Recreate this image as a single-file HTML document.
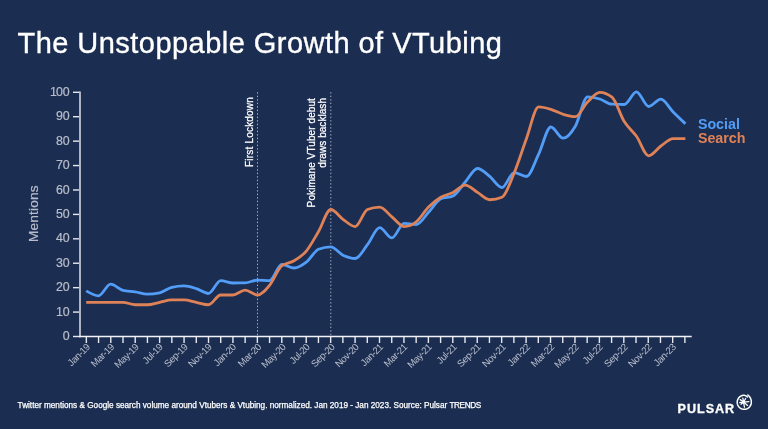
<!DOCTYPE html><html><head><meta charset="utf-8"><title>The Unstoppable Growth of VTubing</title><style>
html,body{margin:0;padding:0}
body{width:768px;height:429px;overflow:hidden;background:#1b2e51;position:relative;font-family:"Liberation Sans",sans-serif;color:#fff}
.abs{position:absolute;white-space:nowrap;line-height:1}
.title{left:17.5px;top:29px;font-size:29px;letter-spacing:0.46px;color:#fff;-webkit-text-stroke:0.35px #fff}
.yl{right:698.3px;font-size:12.4px;color:#b9bdcb;text-align:right;-webkit-text-stroke:0.2px #b9bdcb}
.xl{font-size:9.7px;letter-spacing:-0.45px;color:#b9bdcb;transform-origin:100% 0;transform:rotate(-45deg);text-align:right}
.ann{font-size:10px;color:#fff;-webkit-text-stroke:0.25px #fff;transform-origin:0 0;transform:rotate(-90deg);text-align:right;line-height:11px}
.foot{left:17.6px;top:401.7px;font-size:8.2px;color:#fff;-webkit-text-stroke:0.25px #fff}
.leg{font-size:14.25px;font-weight:bold}
.logo{left:677.6px;top:403.1px;font-size:12.6px;font-weight:bold;letter-spacing:0.95px;-webkit-text-stroke:0.3px #fff}
.ment{font-size:13.7px;letter-spacing:0.15px;-webkit-text-stroke:0.2px #b9bdcb;color:#b9bdcb;transform-origin:0 0;transform:rotate(-90deg)}

</style></head><body>
<svg width="768" height="429" viewBox="0 0 768 429" style="position:absolute;left:0;top:0">
<line x1="257.51" y1="92.2" x2="257.51" y2="336" stroke="#b9bfd3" stroke-width="0.9" stroke-dasharray="1.4 2.1"/>
<line x1="330.80" y1="92.2" x2="330.80" y2="336" stroke="#b9bfd3" stroke-width="0.9" stroke-dasharray="1.4 2.1"/>
<line x1="73" y1="336.50" x2="80" y2="336.50" stroke="#e6e8ef" stroke-width="1.4"/>
<line x1="73" y1="312.08" x2="80" y2="312.08" stroke="#e6e8ef" stroke-width="1.4"/>
<line x1="73" y1="287.66" x2="80" y2="287.66" stroke="#e6e8ef" stroke-width="1.4"/>
<line x1="73" y1="263.24" x2="80" y2="263.24" stroke="#e6e8ef" stroke-width="1.4"/>
<line x1="73" y1="238.82" x2="80" y2="238.82" stroke="#e6e8ef" stroke-width="1.4"/>
<line x1="73" y1="214.40" x2="80" y2="214.40" stroke="#e6e8ef" stroke-width="1.4"/>
<line x1="73" y1="189.98" x2="80" y2="189.98" stroke="#e6e8ef" stroke-width="1.4"/>
<line x1="73" y1="165.56" x2="80" y2="165.56" stroke="#e6e8ef" stroke-width="1.4"/>
<line x1="73" y1="141.14" x2="80" y2="141.14" stroke="#e6e8ef" stroke-width="1.4"/>
<line x1="73" y1="116.72" x2="80" y2="116.72" stroke="#e6e8ef" stroke-width="1.4"/>
<line x1="73" y1="92.30" x2="80" y2="92.30" stroke="#e6e8ef" stroke-width="1.4"/>
<line x1="86.35" y1="336.5" x2="86.35" y2="343" stroke="#e6e8ef" stroke-width="1.4"/>
<line x1="98.56" y1="336.5" x2="98.56" y2="343" stroke="#e6e8ef" stroke-width="1.4"/>
<line x1="110.78" y1="336.5" x2="110.78" y2="343" stroke="#e6e8ef" stroke-width="1.4"/>
<line x1="122.99" y1="336.5" x2="122.99" y2="343" stroke="#e6e8ef" stroke-width="1.4"/>
<line x1="135.21" y1="336.5" x2="135.21" y2="343" stroke="#e6e8ef" stroke-width="1.4"/>
<line x1="147.43" y1="336.5" x2="147.43" y2="343" stroke="#e6e8ef" stroke-width="1.4"/>
<line x1="159.64" y1="336.5" x2="159.64" y2="343" stroke="#e6e8ef" stroke-width="1.4"/>
<line x1="171.85" y1="336.5" x2="171.85" y2="343" stroke="#e6e8ef" stroke-width="1.4"/>
<line x1="184.07" y1="336.5" x2="184.07" y2="343" stroke="#e6e8ef" stroke-width="1.4"/>
<line x1="196.28" y1="336.5" x2="196.28" y2="343" stroke="#e6e8ef" stroke-width="1.4"/>
<line x1="208.50" y1="336.5" x2="208.50" y2="343" stroke="#e6e8ef" stroke-width="1.4"/>
<line x1="220.72" y1="336.5" x2="220.72" y2="343" stroke="#e6e8ef" stroke-width="1.4"/>
<line x1="232.93" y1="336.5" x2="232.93" y2="343" stroke="#e6e8ef" stroke-width="1.4"/>
<line x1="245.14" y1="336.5" x2="245.14" y2="343" stroke="#e6e8ef" stroke-width="1.4"/>
<line x1="257.36" y1="336.5" x2="257.36" y2="343" stroke="#e6e8ef" stroke-width="1.4"/>
<line x1="269.57" y1="336.5" x2="269.57" y2="343" stroke="#e6e8ef" stroke-width="1.4"/>
<line x1="281.79" y1="336.5" x2="281.79" y2="343" stroke="#e6e8ef" stroke-width="1.4"/>
<line x1="294.00" y1="336.5" x2="294.00" y2="343" stroke="#e6e8ef" stroke-width="1.4"/>
<line x1="306.22" y1="336.5" x2="306.22" y2="343" stroke="#e6e8ef" stroke-width="1.4"/>
<line x1="318.44" y1="336.5" x2="318.44" y2="343" stroke="#e6e8ef" stroke-width="1.4"/>
<line x1="330.65" y1="336.5" x2="330.65" y2="343" stroke="#e6e8ef" stroke-width="1.4"/>
<line x1="342.87" y1="336.5" x2="342.87" y2="343" stroke="#e6e8ef" stroke-width="1.4"/>
<line x1="355.08" y1="336.5" x2="355.08" y2="343" stroke="#e6e8ef" stroke-width="1.4"/>
<line x1="367.29" y1="336.5" x2="367.29" y2="343" stroke="#e6e8ef" stroke-width="1.4"/>
<line x1="379.51" y1="336.5" x2="379.51" y2="343" stroke="#e6e8ef" stroke-width="1.4"/>
<line x1="391.73" y1="336.5" x2="391.73" y2="343" stroke="#e6e8ef" stroke-width="1.4"/>
<line x1="403.94" y1="336.5" x2="403.94" y2="343" stroke="#e6e8ef" stroke-width="1.4"/>
<line x1="416.15" y1="336.5" x2="416.15" y2="343" stroke="#e6e8ef" stroke-width="1.4"/>
<line x1="428.37" y1="336.5" x2="428.37" y2="343" stroke="#e6e8ef" stroke-width="1.4"/>
<line x1="440.59" y1="336.5" x2="440.59" y2="343" stroke="#e6e8ef" stroke-width="1.4"/>
<line x1="452.80" y1="336.5" x2="452.80" y2="343" stroke="#e6e8ef" stroke-width="1.4"/>
<line x1="465.01" y1="336.5" x2="465.01" y2="343" stroke="#e6e8ef" stroke-width="1.4"/>
<line x1="477.23" y1="336.5" x2="477.23" y2="343" stroke="#e6e8ef" stroke-width="1.4"/>
<line x1="489.44" y1="336.5" x2="489.44" y2="343" stroke="#e6e8ef" stroke-width="1.4"/>
<line x1="501.66" y1="336.5" x2="501.66" y2="343" stroke="#e6e8ef" stroke-width="1.4"/>
<line x1="513.88" y1="336.5" x2="513.88" y2="343" stroke="#e6e8ef" stroke-width="1.4"/>
<line x1="526.09" y1="336.5" x2="526.09" y2="343" stroke="#e6e8ef" stroke-width="1.4"/>
<line x1="538.30" y1="336.5" x2="538.30" y2="343" stroke="#e6e8ef" stroke-width="1.4"/>
<line x1="550.52" y1="336.5" x2="550.52" y2="343" stroke="#e6e8ef" stroke-width="1.4"/>
<line x1="562.74" y1="336.5" x2="562.74" y2="343" stroke="#e6e8ef" stroke-width="1.4"/>
<line x1="574.95" y1="336.5" x2="574.95" y2="343" stroke="#e6e8ef" stroke-width="1.4"/>
<line x1="587.16" y1="336.5" x2="587.16" y2="343" stroke="#e6e8ef" stroke-width="1.4"/>
<line x1="599.38" y1="336.5" x2="599.38" y2="343" stroke="#e6e8ef" stroke-width="1.4"/>
<line x1="611.60" y1="336.5" x2="611.60" y2="343" stroke="#e6e8ef" stroke-width="1.4"/>
<line x1="623.81" y1="336.5" x2="623.81" y2="343" stroke="#e6e8ef" stroke-width="1.4"/>
<line x1="636.02" y1="336.5" x2="636.02" y2="343" stroke="#e6e8ef" stroke-width="1.4"/>
<line x1="648.24" y1="336.5" x2="648.24" y2="343" stroke="#e6e8ef" stroke-width="1.4"/>
<line x1="660.46" y1="336.5" x2="660.46" y2="343" stroke="#e6e8ef" stroke-width="1.4"/>
<line x1="672.67" y1="336.5" x2="672.67" y2="343" stroke="#e6e8ef" stroke-width="1.4"/>
<line x1="684.88" y1="336.5" x2="684.88" y2="343" stroke="#e6e8ef" stroke-width="1.4"/>
<line x1="80" y1="91.6" x2="80" y2="337.2" stroke="#aeb3c4" stroke-width="2"/>
<line x1="79" y1="336.5" x2="691.7" y2="336.5" stroke="#f2f3f7" stroke-width="1.4"/>
<path d="M86.20 290.90C90.28 293.35 94.35 295.80 98.43 295.80C102.50 295.80 106.58 284.20 110.66 284.20C114.73 284.20 118.81 289.30 122.88 290.30C126.96 291.30 131.04 291.17 135.11 291.80C139.19 292.43 143.26 294.10 147.34 294.10C151.42 294.10 155.49 293.67 159.57 292.80C163.64 291.93 167.72 288.40 171.80 287.40C175.87 286.40 179.95 285.90 184.02 285.90C188.10 285.90 192.18 287.33 196.25 288.60C200.33 289.87 204.40 293.50 208.48 293.50C212.56 293.50 216.63 280.70 220.71 280.70C224.78 280.70 228.86 283.00 232.94 283.00C237.01 283.00 241.09 282.97 245.16 282.90C249.24 282.83 253.32 280.10 257.39 280.10C261.47 280.10 265.54 280.60 269.62 280.60C273.70 280.60 277.77 264.40 281.85 264.40C285.92 264.40 290.00 268.00 294.08 268.00C298.15 268.00 302.23 265.32 306.30 262.20C310.38 259.08 314.46 250.97 318.53 249.30C322.61 247.63 326.68 246.80 330.76 246.80C334.84 246.80 338.91 253.25 342.99 255.20C347.06 257.15 351.14 258.50 355.22 258.50C359.29 258.50 363.37 249.83 367.44 244.70C371.52 239.57 375.60 227.70 379.67 227.70C383.75 227.70 387.82 237.90 391.90 237.90C395.98 237.90 400.05 223.40 404.13 223.40C408.20 223.40 412.28 224.50 416.36 224.50C420.43 224.50 424.51 216.50 428.58 212.20C432.66 207.90 436.74 200.57 440.81 198.70C444.89 196.83 448.96 197.77 453.04 195.90C457.12 194.03 461.19 186.57 465.27 182.00C469.34 177.43 473.42 168.50 477.50 168.50C481.57 168.50 485.65 173.22 489.72 176.40C493.80 179.58 497.88 187.60 501.95 187.60C506.03 187.60 510.10 172.60 514.18 172.60C518.26 172.60 522.33 176.50 526.41 176.50C530.48 176.50 534.56 162.35 538.64 154.10C542.71 145.85 546.79 127.00 550.86 127.00C554.94 127.00 559.02 138.20 563.09 138.20C567.17 138.20 571.24 133.10 575.32 126.20C579.40 119.30 583.47 96.80 587.55 96.80C591.62 96.80 595.70 97.77 599.78 99.00C603.85 100.23 607.93 104.00 612.00 104.20C616.08 104.40 620.16 104.50 624.23 104.50C628.31 104.50 632.38 91.80 636.46 91.80C640.54 91.80 644.61 106.50 648.69 106.50C652.76 106.50 656.84 99.10 660.92 99.10C664.99 99.10 669.07 107.90 673.14 112.00C677.22 116.10 681.30 119.90 685.37 123.70" fill="none" stroke="#529df7" stroke-width="2.8" stroke-linejoin="round"/>
<path d="M86.20 302.31C90.28 302.31 94.35 302.31 98.43 302.31C102.50 302.31 106.58 302.31 110.66 302.31C114.73 302.31 118.81 302.31 122.88 302.31C126.96 302.31 131.04 304.75 135.11 304.75C139.19 304.75 143.26 304.75 147.34 304.75C151.42 304.75 155.49 303.13 159.57 302.31C163.64 301.50 167.72 299.87 171.80 299.87C175.87 299.87 179.95 299.87 184.02 299.87C188.10 299.87 192.18 301.50 196.25 302.31C200.33 303.13 204.40 304.75 208.48 304.75C212.56 304.75 216.63 294.99 220.71 294.99C224.78 294.99 228.86 294.99 232.94 294.99C237.01 294.99 241.09 290.10 245.16 290.10C249.24 290.10 253.32 294.99 257.39 294.99C261.47 294.99 265.54 290.10 269.62 285.22C273.70 280.33 277.77 268.94 281.85 265.68C285.92 262.43 290.00 263.24 294.08 260.80C298.15 258.36 302.23 255.91 306.30 251.03C310.38 246.15 314.46 238.41 318.53 231.49C322.61 224.57 326.68 209.52 330.76 209.52C334.84 209.52 338.91 216.44 342.99 219.28C347.06 222.13 351.14 226.61 355.22 226.61C359.29 226.61 363.37 211.14 367.44 209.52C371.52 207.89 375.60 207.07 379.67 207.07C383.75 207.07 387.82 213.59 391.90 216.84C395.98 220.10 400.05 226.61 404.13 226.61C408.20 226.61 412.28 224.98 416.36 221.73C420.43 218.47 424.51 211.14 428.58 207.07C432.66 203.00 436.74 199.75 440.81 197.31C444.89 194.86 448.96 194.46 453.04 192.42C457.12 190.39 461.19 185.10 465.27 185.10C469.34 185.10 473.42 189.98 477.50 192.42C481.57 194.86 485.65 199.75 489.72 199.75C493.80 199.75 497.88 198.93 501.95 197.31C506.03 195.68 510.10 182.65 514.18 172.89C518.26 163.12 522.33 149.69 526.41 138.70C530.48 127.71 534.56 106.95 538.64 106.95C542.71 106.95 546.79 108.17 550.86 109.39C554.94 110.61 559.02 113.06 563.09 114.28C567.17 115.50 571.24 116.72 575.32 116.72C579.40 116.72 583.47 106.14 587.55 102.07C591.62 98.00 595.70 92.30 599.78 92.30C603.85 92.30 607.93 93.93 612.00 97.18C616.08 100.44 620.16 115.09 624.23 121.60C628.31 128.12 632.38 130.56 636.46 136.26C640.54 141.95 644.61 155.79 648.69 155.79C652.76 155.79 656.84 148.87 660.92 146.02C664.99 143.18 669.07 138.70 673.14 138.70C677.22 138.70 681.30 138.70 685.37 138.70" fill="none" stroke="#e08257" stroke-width="2.8" stroke-linejoin="round"/>
<path d="M747.31 396.98 L746.90 396.58 L746.45 396.22 L745.94 395.90 L745.40 395.64 L744.82 395.45 L744.22 395.33 L743.60 395.29 L742.98 395.34 L742.38 395.47 L741.78 395.66 L741.21 395.90 L740.66 396.20 L740.14 396.54 L739.66 396.92 L739.20 397.35 L738.79 397.81 L738.42 398.31 L738.09 398.84 L737.82 399.40 L737.59 399.98 L737.41 400.57 L737.29 401.18 L737.22 401.80 L737.21 402.42 L737.25 403.04 L737.35 403.66 L737.50 404.26 L737.70 404.85 L737.96 405.42 L738.26 405.96 L738.61 406.48 L739.00 406.96 L739.44 407.40 L739.91 407.81 L740.41 408.17 L740.95 408.48 L741.51 408.75 L742.09 408.97 L742.69 409.13 L743.31 409.25 L743.93 409.30 L744.55 409.30 L745.17 409.25 L745.78 409.14 L746.38 408.98 L746.96 408.77 L747.53 408.51 L748.07 408.19 L748.57 407.84 L749.05 407.43 L749.49 406.99 L749.88 406.51 L750.24 406.00 L750.54 405.46 L750.80 404.89 L751.01 404.31 L751.16 403.71 L751.26 403.09 L751.31 402.47 L751.31 401.85 L751.28 401.22 L751.21 400.60 L751.09 399.97 L750.93 399.35 L750.71 398.74 L750.45 398.14 L750.13 397.56 L749.76 396.99 L749.34 396.45 L748.87 395.94 L748.35 395.46 L747.79 395.02" fill="none" stroke="#fff" stroke-width="1.5" stroke-linecap="round" stroke-linejoin="round"/>
<line x1="743.56" y1="402.02" x2="742.86" y2="398.02" stroke="#fff" stroke-width="1.25" stroke-linecap="round"/>
<line x1="743.56" y1="402.02" x2="745.66" y2="398.52" stroke="#fff" stroke-width="1.25" stroke-linecap="round"/>
<line x1="743.56" y1="402.02" x2="748.86" y2="401.52" stroke="#fff" stroke-width="1.25" stroke-linecap="round"/>
<line x1="743.56" y1="402.02" x2="747.56" y2="405.42" stroke="#fff" stroke-width="1.25" stroke-linecap="round"/>
<line x1="743.56" y1="402.02" x2="744.46" y2="407.02" stroke="#fff" stroke-width="1.25" stroke-linecap="round"/>
<line x1="743.56" y1="402.02" x2="740.96" y2="404.22" stroke="#fff" stroke-width="1.25" stroke-linecap="round"/>
<line x1="743.56" y1="402.02" x2="739.66" y2="402.52" stroke="#fff" stroke-width="1.25" stroke-linecap="round"/>
<line x1="743.56" y1="402.02" x2="740.16" y2="399.62" stroke="#fff" stroke-width="1.25" stroke-linecap="round"/>
<circle cx="743.56" cy="402.02" r="1.7" fill="#fff"/>
</svg>
<div class="abs title">The Unstoppable Growth of VTubing</div>
<div class="abs yl" style="top:330.0px">0</div>
<div class="abs yl" style="top:305.6px">10</div>
<div class="abs yl" style="top:281.2px">20</div>
<div class="abs yl" style="top:256.7px">30</div>
<div class="abs yl" style="top:232.3px">40</div>
<div class="abs yl" style="top:207.9px">50</div>
<div class="abs yl" style="top:183.5px">60</div>
<div class="abs yl" style="top:159.1px">70</div>
<div class="abs yl" style="top:134.6px">80</div>
<div class="abs yl" style="top:110.2px">90</div>
<div class="abs yl" style="top:85.8px"><span style="letter-spacing:-1.1px">1</span>00</div>
<div class="abs xl" style="right:683.1px;top:341.9px">Jan-19</div>
<div class="abs xl" style="right:658.7px;top:341.9px">Mar-19</div>
<div class="abs xl" style="right:634.3px;top:341.9px">May-19</div>
<div class="abs xl" style="right:609.9px;top:341.9px">Jul-19</div>
<div class="abs xl" style="right:585.4px;top:341.9px">Sep-19</div>
<div class="abs xl" style="right:561.0px;top:341.9px">Nov-19</div>
<div class="abs xl" style="right:536.6px;top:341.9px">Jan-20</div>
<div class="abs xl" style="right:512.1px;top:341.9px">Mar-20</div>
<div class="abs xl" style="right:487.7px;top:341.9px">May-20</div>
<div class="abs xl" style="right:463.3px;top:341.9px">Jul-20</div>
<div class="abs xl" style="right:438.9px;top:341.9px">Sep-20</div>
<div class="abs xl" style="right:414.4px;top:341.9px">Nov-20</div>
<div class="abs xl" style="right:390.0px;top:341.9px">Jan-21</div>
<div class="abs xl" style="right:365.6px;top:341.9px">Mar-21</div>
<div class="abs xl" style="right:341.1px;top:341.9px">May-21</div>
<div class="abs xl" style="right:316.7px;top:341.9px">Jul-21</div>
<div class="abs xl" style="right:292.3px;top:341.9px">Sep-21</div>
<div class="abs xl" style="right:267.8px;top:341.9px">Nov-21</div>
<div class="abs xl" style="right:243.4px;top:341.9px">Jan-22</div>
<div class="abs xl" style="right:219.0px;top:341.9px">Mar-22</div>
<div class="abs xl" style="right:194.5px;top:341.9px">May-22</div>
<div class="abs xl" style="right:170.1px;top:341.9px">Jul-22</div>
<div class="abs xl" style="right:145.7px;top:341.9px">Sep-22</div>
<div class="abs xl" style="right:121.3px;top:341.9px">Nov-22</div>
<div class="abs xl" style="right:96.8px;top:341.9px">Jan-23</div>
<div class="abs ment" style="left:27px;top:241.5px">Mentions</div>
<div class="abs ann" style="left:243.5px;top:167px;width:70px;letter-spacing:0.2px">First Lockdown</div>
<div class="abs ann" style="left:306px;top:207.5px;width:110px"><span style="letter-spacing:0.09px">Pokimane VTuber debut</span><br><span style="letter-spacing:0.05px">draws backlash</span></div>
<div class="abs leg" style="left:697.9px;top:116.6px;color:#529df7">Social</div>
<div class="abs leg" style="left:697.9px;top:130.9px;color:#e08257">Search</div>
<div class="abs foot">Twitter mentions &amp; Google search volume around Vtubers &amp; Vtubing. normalized. Jan 2019 - Jan 2023. Source: Pulsar <span style="letter-spacing:-0.4px">TRENDS</span></div>
<div class="abs logo">PULSAR</div>
</body></html>
